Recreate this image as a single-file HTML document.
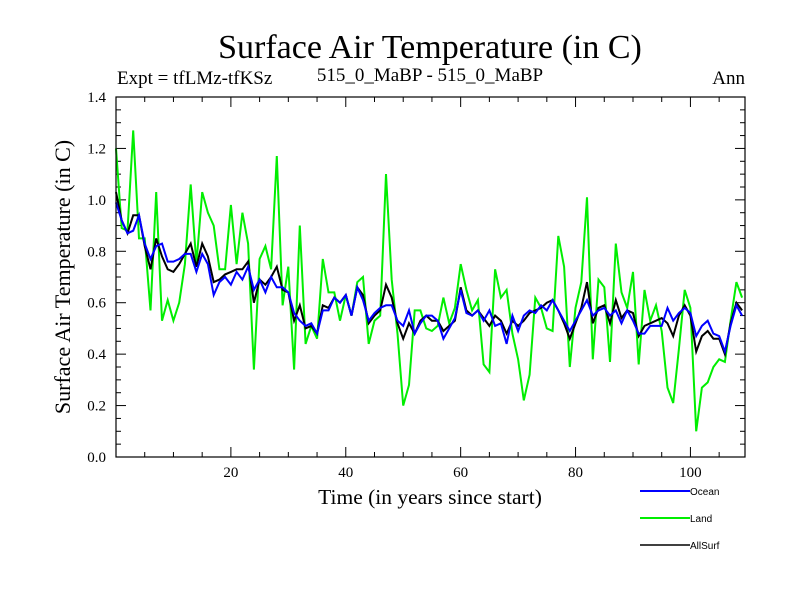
<!DOCTYPE html>
<html><head><meta charset="utf-8"><style>
body{margin:0;background:#fff}
svg{display:block;font-family:"Liberation Serif",serif}
</style></head><body>
<svg id="chart" width="800" height="600" viewBox="0 0 800 600" xmlns="http://www.w3.org/2000/svg">
<rect width="800" height="600" fill="#fff"/>
<text x="430" y="58" font-size="34" text-anchor="middle">Surface Air Temperature (in C)</text>
<text x="117" y="84" font-size="19">Expt = tfLMz-tfKSz</text>
<text x="430" y="81" font-size="19" text-anchor="middle">515_0_MaBP - 515_0_MaBP</text>
<text x="745" y="84" font-size="19" text-anchor="end">Ann</text>
<text transform="translate(70,277) rotate(-90)" font-size="22" text-anchor="middle">Surface Air Temperature (in C)</text>
<text x="430" y="504" font-size="21.5" text-anchor="middle">Time (in years since start)</text>
<g id="ticks"></g>
<g id="series"></g>
<rect x="116" y="97" width="629" height="360" fill="none" stroke="#000" stroke-width="1.2"/>
<g font-family="Liberation Sans, sans-serif" font-size="10">
<line x1="640" y1="491" x2="690" y2="491" stroke="#0000ff" stroke-width="2"/>
<text x="690" y="495">Ocean</text>
<line x1="640" y1="518" x2="690" y2="518" stroke="#00ee00" stroke-width="2"/>
<text x="690" y="522">Land</text>
<line x1="640" y1="545" x2="690" y2="545" stroke="#000" stroke-width="1.5"/>
<text x="690" y="549">AllSurf</text>
</g>
</svg>
<script>
const years = Array.from({length:110},(_,i)=>i);
const landValues = [1.20,0.89,0.88,1.27,0.85,0.85,0.57,1.03,0.53,0.61,
0.53,0.60,0.75,1.06,0.75,1.03,0.95,0.90,0.73,0.73,
0.98,0.75,0.95,0.83,0.34,0.77,0.82,0.73,1.17,0.59,
0.74,0.34,0.90,0.44,0.51,0.46,0.77,0.64,0.64,0.53,
0.63,0.55,0.68,0.70,0.44,0.53,0.55,1.10,0.69,0.48,
0.20,0.28,0.57,0.57,0.50,0.49,0.51,0.62,0.52,0.58,
0.75,0.65,0.57,0.61,0.36,0.33,0.73,0.62,0.65,0.48,
0.38,0.22,0.32,0.62,0.58,0.50,0.49,0.86,0.74,0.35,
0.58,0.68,1.01,0.38,0.69,0.66,0.37,0.83,0.64,0.58,
0.72,0.36,0.65,0.53,0.59,0.49,0.27,0.21,0.42,0.65,
0.58,0.10,0.27,0.29,0.35,0.38,0.37,0.53,0.68,0.62];
const oceanValues = [0.99,0.92,0.87,0.88,0.94,0.83,0.77,0.82,0.83,0.76,
0.76,0.77,0.79,0.79,0.72,0.79,0.75,0.63,0.68,0.70,
0.67,0.72,0.69,0.74,0.65,0.69,0.64,0.70,0.66,0.66,
0.64,0.56,0.53,0.51,0.52,0.48,0.57,0.57,0.62,0.60,
0.63,0.55,0.66,0.61,0.53,0.56,0.58,0.59,0.59,0.53,
0.51,0.57,0.48,0.52,0.55,0.55,0.53,0.46,0.50,0.54,
0.65,0.56,0.55,0.57,0.53,0.57,0.51,0.52,0.44,0.55,
0.49,0.55,0.57,0.56,0.59,0.57,0.61,0.57,0.53,0.49,
0.53,0.57,0.61,0.55,0.57,0.58,0.55,0.57,0.52,0.57,
0.53,0.48,0.48,0.51,0.51,0.51,0.58,0.53,0.56,0.58,
0.56,0.47,0.51,0.53,0.48,0.47,0.41,0.51,0.59,0.55];
const allSurfValues = [1.03,0.92,0.87,0.94,0.94,0.82,0.73,0.85,0.78,0.73,
0.72,0.75,0.79,0.83,0.74,0.83,0.78,0.68,0.69,0.71,
0.72,0.73,0.73,0.76,0.60,0.69,0.67,0.70,0.74,0.65,
0.64,0.53,0.59,0.50,0.51,0.48,0.59,0.58,0.62,0.60,
0.63,0.55,0.66,0.63,0.52,0.55,0.57,0.67,0.62,0.52,
0.46,0.52,0.48,0.53,0.55,0.53,0.53,0.49,0.51,0.53,
0.66,0.57,0.55,0.57,0.54,0.51,0.55,0.53,0.48,0.53,
0.51,0.53,0.56,0.57,0.58,0.60,0.61,0.57,0.52,0.46,
0.52,0.58,0.68,0.52,0.58,0.59,0.52,0.61,0.54,0.57,
0.56,0.47,0.51,0.52,0.53,0.54,0.52,0.47,0.55,0.59,
0.55,0.41,0.47,0.49,0.46,0.46,0.40,0.52,0.60,0.57];
const xTickLabels = [20,40,60,80,100];
const yTickLabels = ["0.0","0.2","0.4","0.6","0.8","1.0","1.2","1.4"];

const L=116,R=745,T=97,B=457, XMIN=0, XMAX=109.5, YMIN=0, YMAX=1.4;
const xs = v => L + (v-XMIN)/(XMAX-XMIN)*(R-L);
const ys = v => B - (v-YMIN)/(YMAX-YMIN)*(B-T);
const NS="http://www.w3.org/2000/svg";
const tg=document.getElementById('ticks'), sg=document.getElementById('series');
function mk(tag,attrs,parent){const e=document.createElementNS(NS,tag);for(const k in attrs)e.setAttribute(k,attrs[k]);parent.appendChild(e);return e;}

for(let v=5; v<XMAX; v+=5){
  const x=xs(v), len = v%20===0?10:5;
  const t1=mk('line',{x1:x,y1:B,x2:x,y2:B-len,stroke:'#000'},tg);
  
  
  const t2=mk('line',{x1:x,y1:T,x2:x,y2:T+len,stroke:'#000'},tg);
  
  
}
xTickLabels.forEach(v=>{
  const t=mk('text',{x:xs(v),y:B+20,'font-size':15,'text-anchor':'middle'},tg);
  t.textContent=v;
  
  
});
for(let i=1;i<28;i++){
  const v=i*0.05, y=ys(v), len=i%4===0?10:5;
  const t1=mk('line',{x1:L,y1:y,x2:L+len,y2:y,stroke:'#000'},tg);
  
  
  const t2=mk('line',{x1:R,y1:y,x2:R-len,y2:y,stroke:'#000'},tg);
  
  
}
yTickLabels.forEach(s=>{
  const t=mk('text',{x:106,y:ys(parseFloat(s))+5,'font-size':15,'text-anchor':'end'},tg);
  t.textContent=s;
  
  
});
function line(vals,color,w,name){
  const pts=vals.map((v,i)=>xs(years[i]).toFixed(1)+','+ys(v).toFixed(1)).join(' ');
  const p=mk('polyline',{points:pts,fill:'none',stroke:color,'stroke-width':w,'stroke-linejoin':'miter'},sg);
  
  
}
line(landValues,'#00ee00',2,'land-line');
line(allSurfValues,'#000000',2,'allsurf-line');
line(oceanValues,'#0000ff',2,'ocean-line');
</script>
</body></html>
